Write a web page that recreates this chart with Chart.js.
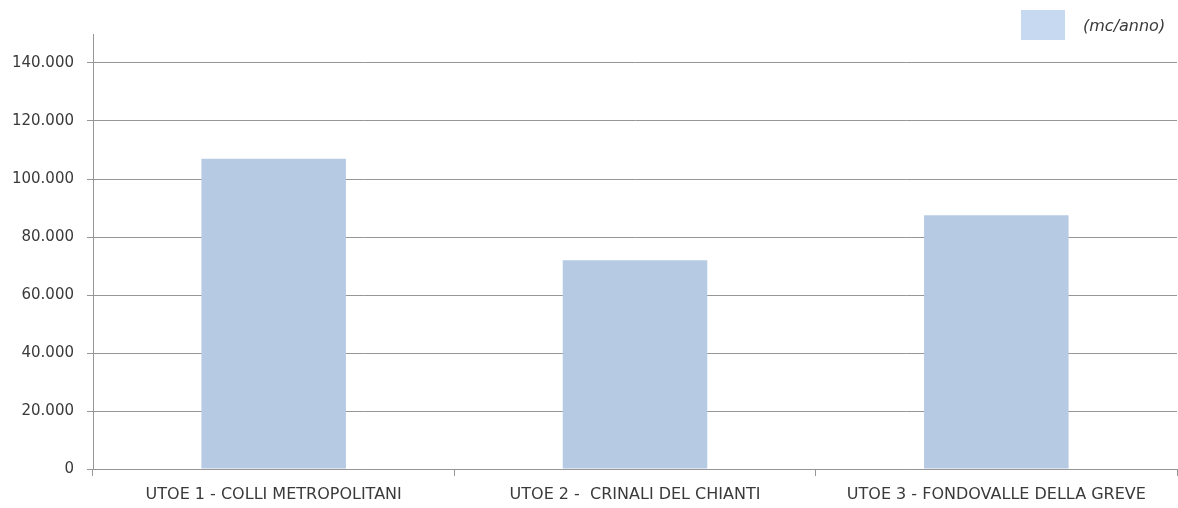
<!DOCTYPE html>
<html>
<head>
<meta charset="utf-8">
<script src="https://cdn.jsdelivr.net/npm/chart.js@4"></script>
<style>
  html, body { margin: 0; padding: 0; background: #fff; }
  canvas { display: block; }
</style>
</head>
<body>
<canvas id="grafico" width="1178" height="508"></canvas>
<script>
// dati
const categorie = ["UTOE 1 - COLLI METROPOLITANI", "UTOE 2 -  CRINALI DEL CHIANTI", "UTOE 3 - FONDOVALLE DELLA GREVE"];
const volumi = [107000, 72000, 87500];
const etichettaSerie = "(mc/anno)";
const tacchePrincipali = [0, 20000, 40000, 60000, 80000, 100000, 120000, 140000];

const grigio = "#969696";
const testo = "#3a3a3a";
const font = "'DejaVu Sans', sans-serif";

// legenda disegnata a mano in alto a destra (non occupa spazio nel layout)
const legendaManuale = {
    id: "legendaManuale",
    afterDraw(chart) {
        const c = chart.ctx;
        c.save();
        c.fillStyle = "#c6d9f1";
        c.fillRect(1021, 10, 44, 30);
        c.fillStyle = testo;
        c.font = "italic 16px " + font;
        c.textBaseline = "middle";
        c.fillText(chart.data.datasets[0].label, 1083, 27);
        c.restore();
    }
};

new Chart(document.getElementById("grafico"), {
    type: "bar",
    data: {
        labels: categorie,
        datasets: [{
            label: etichettaSerie,
            data: volumi,
            backgroundColor: "#b7cae3",
            barPercentage: 0.4,
            categoryPercentage: 1
        }]
    },
    options: {
        responsive: false,
        animation: false,
        layout: { padding: { top: 34, right: 1, left: 0, bottom: 0 } },
        plugins: {
            legend: { display: false },
            tooltip: { enabled: false }
        },
        scales: {
            x: {
                offset: true,
                grid: { display: true, drawOnChartArea: false, offset: true, color: grigio, tickLength: 7 },
                border: { color: grigio },
                ticks: { color: testo, font: { family: font, size: 16 }, padding: 9, maxRotation: 0 },
                afterFit: (scale) => { scale.height = 39; }
            },
            y: {
                min: 0,
                max: 150000,
                grid: { color: grigio, tickLength: 6 },
                border: { color: grigio },
                ticks: {
                    color: testo,
                    font: { family: font, size: 15 },
                    padding: 13,
                    callback: (v) => v.toLocaleString("it-IT")
                },
                afterBuildTicks: (scale) => { scale.ticks = tacchePrincipali.map(v => ({ value: v })); },
                afterFit: (scale) => { scale.width = 93; }
            }
        }
    },
    plugins: [legendaManuale]
});
</script>
</body>
</html>
